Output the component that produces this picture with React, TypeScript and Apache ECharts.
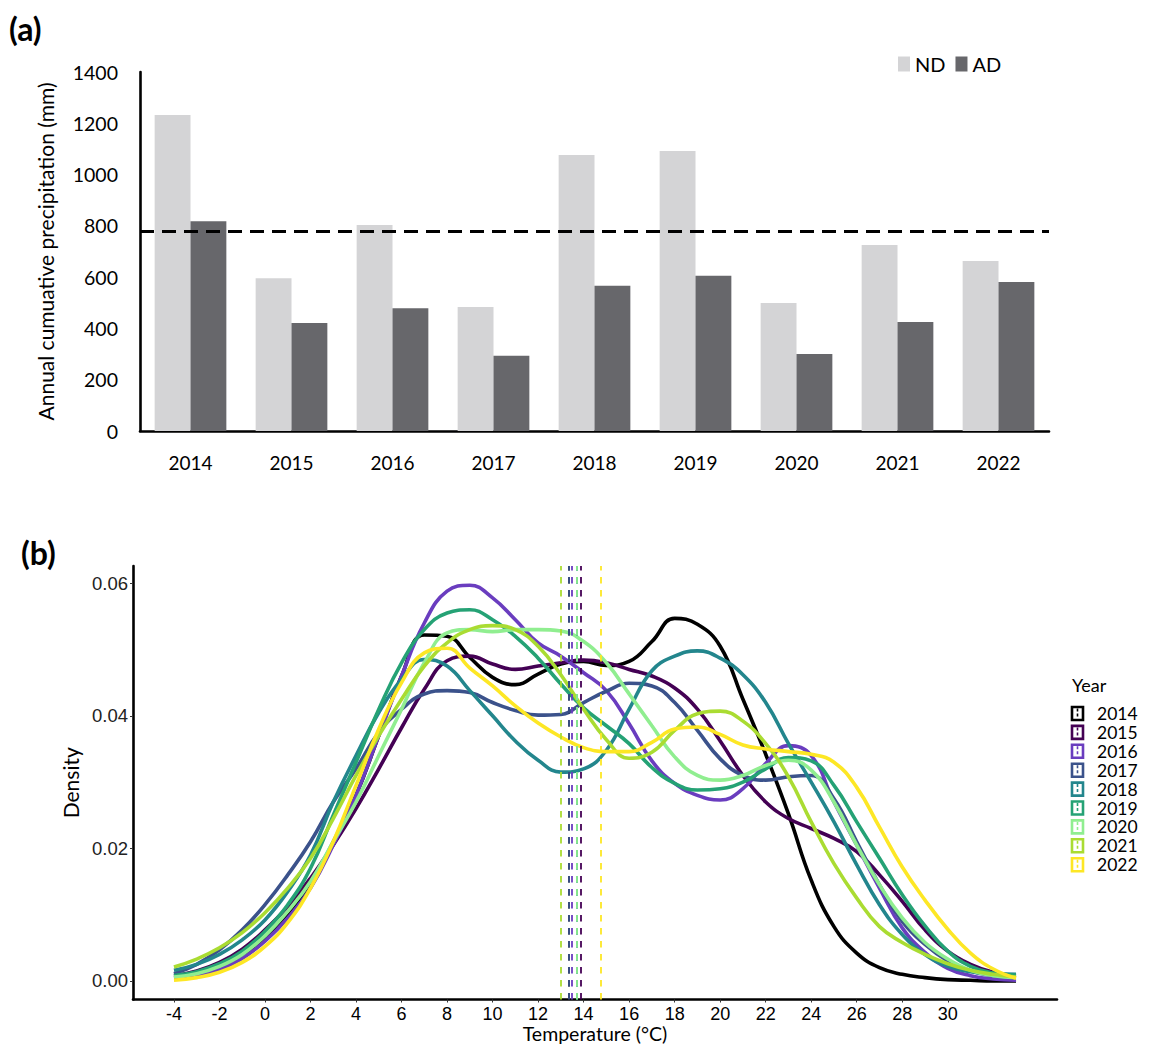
import React, { useEffect, useRef } from "react";
import * as echarts from "echarts";

// ---------- (a) precipitation ----------
const years = ["2014", "2015", "2016", "2017", "2018", "2019", "2020", "2021", "2022"];
const ndValues = [1232, 596, 803, 484, 1076, 1092, 499, 725, 663];
const adValues = [818, 421, 479, 293, 566, 605, 300, 425, 581];
const meanPrecip = 778;

// ---------- (b) temperature density ----------
const temps = [-4, -3, -2, -1, 0, 1, 2, 3, 4, 5, 6, 7, 8, 9, 10, 11, 12, 13, 14, 15, 16, 17, 18, 19, 20, 21, 22, 23, 24, 25, 26, 27, 28, 29, 30, 31, 32, 33];
const tempTicks = [-4, -2, 0, 2, 4, 6, 8, 10, 12, 14, 16, 18, 20, 22, 24, 26, 28, 30];
const densityTicks = [0, 0.02, 0.04, 0.06];

const d2014 = [0.0005, 0.0009, 0.0018, 0.0035, 0.0062, 0.0098, 0.0145, 0.021, 0.028, 0.037, 0.046, 0.0522, 0.052, 0.0488, 0.0458, 0.0447, 0.0463, 0.0478, 0.0482, 0.0476, 0.0482, 0.0512, 0.0547, 0.0538, 0.0505, 0.0425, 0.0342, 0.0252, 0.0152, 0.0082, 0.0042, 0.002, 0.001, 0.0005, 0.0002, 0.0001, 0.0, 0.0];
const d2015 = [0.0008, 0.0015, 0.0028, 0.0048, 0.0077, 0.0112, 0.0155, 0.0205, 0.026, 0.032, 0.0382, 0.044, 0.0483, 0.049, 0.0478, 0.047, 0.0475, 0.048, 0.0484, 0.048, 0.047, 0.046, 0.0442, 0.041, 0.0362, 0.031, 0.027, 0.0245, 0.023, 0.0215, 0.0195, 0.016, 0.012, 0.0077, 0.0045, 0.0025, 0.0013, 0.0008];
const d2016 = [0.0005, 0.0009, 0.0018, 0.0034, 0.006, 0.0095, 0.014, 0.0205, 0.028, 0.037, 0.046, 0.054, 0.0588, 0.0597, 0.0578, 0.0545, 0.051, 0.049, 0.0465, 0.0438, 0.0388, 0.0332, 0.0298, 0.028, 0.0273, 0.029, 0.0328, 0.0355, 0.034, 0.027, 0.0205, 0.014, 0.008, 0.0043, 0.0019, 0.0008, 0.0003, 0.0001];
const d2017 = [0.0011, 0.0025, 0.0047, 0.0077, 0.0115, 0.016, 0.021, 0.027, 0.032, 0.0375, 0.041, 0.0433, 0.0438, 0.0435, 0.042, 0.0408, 0.0401, 0.0402, 0.042, 0.0437, 0.0449, 0.0445, 0.042, 0.0378, 0.0335, 0.031, 0.0303, 0.0308, 0.031, 0.0275, 0.021, 0.0145, 0.009, 0.0055, 0.003, 0.0015, 0.0008, 0.0005];
const d2018 = [0.0016, 0.0025, 0.004, 0.0062, 0.0092, 0.0135, 0.019, 0.027, 0.034, 0.0405, 0.0455, 0.0485, 0.0475, 0.0438, 0.04, 0.0362, 0.0333, 0.0315, 0.032, 0.0348, 0.041, 0.0468, 0.049, 0.0498, 0.0487, 0.0462, 0.042, 0.0358, 0.03, 0.024, 0.0175, 0.0115, 0.007, 0.004, 0.0022, 0.0014, 0.0011, 0.001];
const d2019 = [0.0008, 0.0014, 0.0026, 0.0045, 0.0075, 0.0115, 0.017, 0.025, 0.033, 0.041, 0.048, 0.053, 0.0555, 0.056, 0.0545, 0.052, 0.0487, 0.0448, 0.0412, 0.0385, 0.0358, 0.0322, 0.0298, 0.0288, 0.029, 0.03, 0.032, 0.0337, 0.0332, 0.0295, 0.024, 0.0185, 0.013, 0.0083, 0.0045, 0.0022, 0.0012, 0.0009];
const d2020 = [0.0006, 0.0011, 0.0022, 0.004, 0.0068, 0.0105, 0.015, 0.021, 0.027, 0.034, 0.041, 0.048, 0.0525, 0.053, 0.0527, 0.053, 0.053, 0.0528, 0.0512, 0.048, 0.0433, 0.0385, 0.0338, 0.031, 0.0303, 0.031, 0.0325, 0.0333, 0.0318, 0.027, 0.0205, 0.0145, 0.0095, 0.0058, 0.0033, 0.0016, 0.0008, 0.0005];
const d2021 = [0.0021, 0.0033, 0.005, 0.0073, 0.0103, 0.014, 0.0185, 0.0245, 0.031, 0.037, 0.0425, 0.0475, 0.051, 0.053, 0.0536, 0.053, 0.0505, 0.0462, 0.041, 0.0364, 0.0336, 0.0345, 0.0378, 0.0403, 0.0407, 0.0392, 0.0358, 0.0308, 0.024, 0.0177, 0.0125, 0.0082, 0.0058, 0.004, 0.0026, 0.0016, 0.001, 0.0006];
const d2022 = [0.0001, 0.0005, 0.0013, 0.0028, 0.0052, 0.0088, 0.014, 0.021, 0.0295, 0.038, 0.045, 0.0495, 0.0502, 0.0472, 0.0445, 0.0415, 0.0389, 0.0368, 0.0352, 0.0346, 0.0346, 0.036, 0.038, 0.0383, 0.0372, 0.0356, 0.035, 0.0346, 0.0342, 0.033, 0.0292, 0.0232, 0.0172, 0.0122, 0.0078, 0.0042, 0.0018, 0.0004];
const densities = [d2014, d2015, d2016, d2017, d2018, d2019, d2020, d2021, d2022];
const meanTemps = [13.35, 13.88, 13.46, 13.35, 13.72, 13.72, 13.72, 13.0, 14.74];
const yearColors = ["#000000", "#440154", "#6a3dbf", "#3b528b", "#23868d", "#25a275", "#90ee90", "#aadc32", "#fde725"];

const CAL = "Lato, 'Open Sans', sans-serif";
const ARIAL = "'Liberation Sans', Arial, sans-serif";

export default function App() {
  const ref = useRef<HTMLDivElement>(null);

  useEffect(() => {
    document.body.style.margin = "0";
    const chart = echarts.init(ref.current as HTMLDivElement, undefined, { renderer: "svg" });

    const densitySeries = years.map((y, i) => ({
      type: "line",
      name: y,
      xAxisIndex: 1,
      yAxisIndex: 1,
      data: temps.map((t, j) => [t, densities[i][j]]),
      smooth: 0.45,
      showSymbol: false,
      symbol: "none",
      lineStyle: { color: yearColors[i], width: 3.6 },
      itemStyle: { color: yearColors[i] },
      z: 2,
      markLine: {
        silent: true,
        symbol: ["none", "none"],
        label: { show: false },
        lineStyle: { color: yearColors[i], type: [6.5, 6.5], width: 1.8 },
        data: [{ xAxis: meanTemps[i] }],
        z: 3,
      },
    }));

    const legendItems: any[] = [];
    legendItems.push({
      type: "text",
      left: 1072,
      top: 676,
      style: { text: "Year", fontSize: 18, fontFamily: CAL, fill: "#000" },
    });
    years.forEach((y, i) => {
      const cy = 713.5 + i * 18.9;
      legendItems.push({
        type: "rect",
        shape: { x: 1072, y: cy - 6.5, width: 11, height: 13 },
        style: { fill: "#fff", stroke: yearColors[i], lineWidth: 2.6 },
      });
      legendItems.push({
        type: "line",
        shape: { x1: 1077.5, y1: cy - 5, x2: 1077.5, y2: cy + 5 },
        style: { stroke: yearColors[i], lineWidth: 1.6, lineDash: [3, 2] },
      });
      legendItems.push({
        type: "text",
        x: 1097,
        y: cy,
        style: {
          text: y,
          fontSize: 17.5,
          lineHeight: 17,
          fontFamily: CAL,
          fill: "#000",
          verticalAlign: "middle",
          align: "left",
        },
      });
    });

    chart.setOption({
      animation: false,
      backgroundColor: "#fff",
      grid: [
        { left: 140, top: 72, width: 909, height: 359 },
        { left: 133, top: 566, width: 924, height: 433.5 },
      ],
      legend: {
        data: ["ND", "AD"],
        left: 893,
        top: 49,
        itemWidth: 12,
        itemHeight: 15,
        itemGap: 10,
        icon: "rect",
        textStyle: { fontSize: 20, fontFamily: CAL, color: "#000" },
      },
      xAxis: [
        {
          gridIndex: 0,
          type: "category",
          data: years,
          axisLine: { lineStyle: { color: "#000", width: 2.6 } },
          axisTick: { show: false },
          axisLabel: { fontSize: 19, color: "#000", fontFamily: CAL, margin: 22 },
          splitLine: { show: false },
        },
        {
          gridIndex: 1,
          type: "value",
          min: -5.8,
          max: 34.8,
          splitLine: { show: false },
          axisLine: { show: true, onZero: false, lineStyle: { color: "#000", width: 2.6 } },
          axisTick: { show: true, customValues: tempTicks, length: 3, lineStyle: { color: "#333", width: 1 } },
          axisLabel: {
            customValues: tempTicks,
            fontSize: 18,
            color: "#000",
            fontFamily: "'Liberation Sans Narrow', " + ARIAL,
            margin: 5,
          },
          name: "Temperature (°C)",
          nameLocation: "middle",
          nameGap: 23,
          nameTextStyle: { fontSize: 19.5, fontFamily: CAL, color: "#000" },
        },
      ],
      yAxis: [
        {
          gridIndex: 0,
          type: "value",
          min: 0,
          max: 1400,
          interval: 200,
          splitLine: { show: false },
          axisLine: { show: true, lineStyle: { color: "#000", width: 2.6 } },
          axisTick: { show: false },
          axisLabel: {
            fontSize: 19.5,
            color: "#000",
            fontFamily: CAL,
            margin: 22,
            formatter: (v: number) => String(v),
          },
          name: "Annual cumuative precipitation (mm)",
          nameLocation: "middle",
          nameGap: 84,
          nameTextStyle: { fontSize: 21, fontFamily: CAL, color: "#000" },
        },
        {
          gridIndex: 1,
          type: "value",
          min: -0.0028,
          max: 0.0626,
          splitLine: { show: false },
          axisLine: { show: true, onZero: false, lineStyle: { color: "#000", width: 2.6 } },
          axisTick: { show: true, customValues: densityTicks, length: 3, lineStyle: { color: "#333", width: 1 } },
          axisLabel: {
            customValues: densityTicks,
            fontSize: 18.5,
            color: "#222",
            fontFamily: ARIAL,
            margin: 5,
            formatter: (v: number) => v.toFixed(2),
          },
          name: "Density",
          nameLocation: "middle",
          nameGap: 45,
          nameTextStyle: { fontSize: 21, fontFamily: CAL, color: "#000" },
        },
      ],
      series: [
        {
          type: "bar",
          name: "ND",
          xAxisIndex: 0,
          yAxisIndex: 0,
          data: ndValues,
          barGap: "0%",
          barCategoryGap: "29%",
          itemStyle: { color: "#d4d4d6" },
        },
        {
          type: "bar",
          name: "AD",
          xAxisIndex: 0,
          yAxisIndex: 0,
          data: adValues,
          barGap: "0%",
          barCategoryGap: "29%",
          itemStyle: { color: "#67676b" },
          markLine: {
            silent: true,
            symbol: ["none", "none"],
            label: { show: false },
            lineStyle: { color: "#000", type: [14, 8], width: 2.8 },
            data: [{ yAxis: meanPrecip }],
          },
        },
        ...densitySeries,
      ],
      graphic: [
        {
          type: "text",
          left: 9,
          top: 12,
          style: { text: "(a)", fontSize: 32, fontWeight: "bold", fontFamily: CAL, fill: "#000" },
        },
        {
          type: "text",
          left: 21,
          top: 536,
          style: { text: "(b)", fontSize: 32, fontWeight: "bold", fontFamily: CAL, fill: "#000" },
        },
        ...legendItems,
      ],
    });

    return () => {
      chart.dispose();
    };
  }, []);

  return <div ref={ref} style={{ width: 1149, height: 1049 }} />;
}
